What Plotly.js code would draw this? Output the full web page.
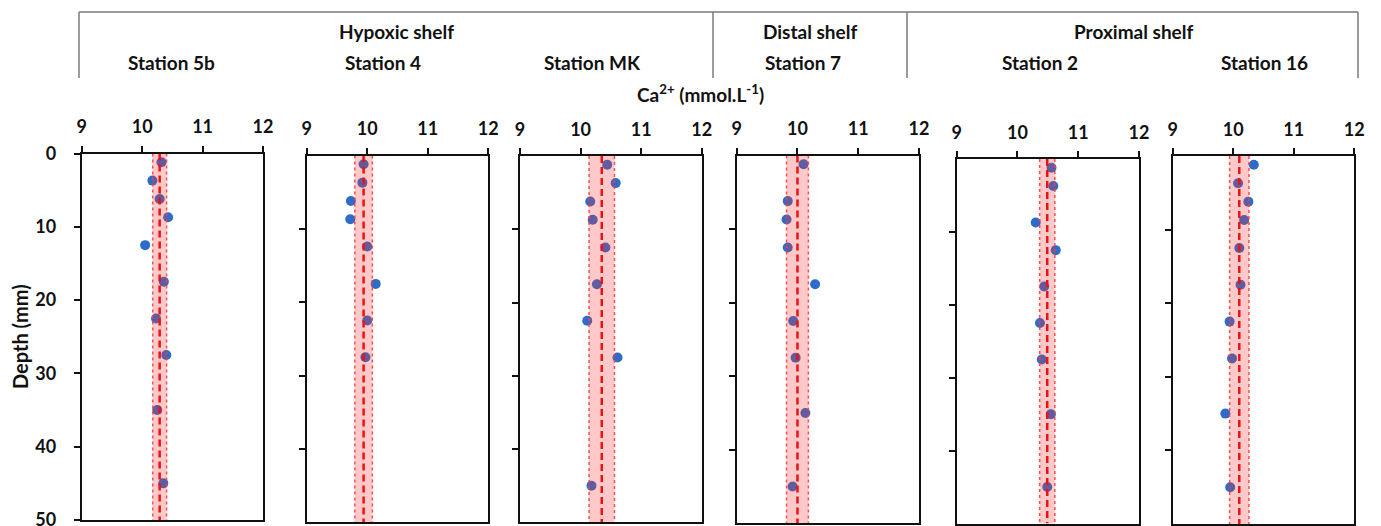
<!DOCTYPE html>
<html>
<head>
<meta charset="utf-8">
<script src="https://cdn.plot.ly/plotly-3.0.1.min.js"></script>
<style>html,body{margin:0;padding:0;background:#fff;}#chart{width:1381px;height:526px;}</style>
</head>
<body>
<div id="chart"></div>
<script>
// ---- data ----
const stations = ["Station 5b", "Station 4", "Station MK", "Station 7", "Station 2", "Station 16"];
const groups = ["Hypoxic shelf", "Distal shelf", "Proximal shelf"];
const xTicks = [9, 10, 11, 12];
const yTicks = [0, 10, 20, 30, 40, 50];

const depth5b = [1.2, 3.7, 6.2, 8.7, 12.5, 17.5, 22.5, 27.5, 35, 45];
const ca5b    = [10.32, 10.17, 10.29, 10.43, 10.05, 10.36, 10.23, 10.40, 10.25, 10.35];
const depth4  = [1.2, 3.7, 6.2, 8.7, 12.4, 17.5, 22.5, 27.5];
const ca4     = [9.94, 9.92, 9.73, 9.72, 10.00, 10.14, 10.00, 9.97];
const depthMK = [1.2, 3.7, 6.2, 8.7, 12.5, 17.5, 22.5, 27.5, 45];
const caMK    = [10.44, 10.58, 10.16, 10.20, 10.41, 10.27, 10.11, 10.61, 10.18];
const depth7  = [1.2, 6.2, 8.7, 12.5, 17.5, 22.5, 27.5, 35, 45];
const ca7     = [10.10, 9.84, 9.82, 9.84, 10.29, 9.93, 9.97, 10.13, 9.92];
const depth2  = [1.2, 3.7, 8.7, 12.5, 17.5, 22.5, 27.5, 35, 45];
const ca2     = [10.56, 10.59, 10.30, 10.63, 10.44, 10.37, 10.40, 10.55, 10.49];
const depth16 = [1.2, 3.7, 6.2, 8.7, 12.5, 17.5, 22.5, 27.5, 35, 45];
const ca16    = [10.34, 10.08, 10.25, 10.18, 10.10, 10.12, 9.94, 9.98, 9.87, 9.95];

const meanCa = [10.29, 9.94, 10.35, 10.00, 10.49, 10.10];
const sdCa   = [0.115, 0.145, 0.21, 0.18, 0.125, 0.16];

const depths = [depth5b, depth4, depthMK, depth7, depth2, depth16];
const values = [ca5b, ca4, caMK, ca7, ca2, ca16];

// ---- layout geometry (pixels) ----
const W = 1381, H = 526;
const panelX = [[81.7, 263], [306.7, 488.3], [520, 701.7], [736.7, 919], [956.7, 1139], [1172.7, 1354.3]];
const panelY = [[153.5, 520], [155.5, 522.3], [156, 522.3], [155.5, 523.3], [159, 523.5], [156, 524]];
const px = v => v / W, py = v => 1 - v / H;

const FONT = "Lato, 'Open Sans', sans-serif";
const traces = [];
const layout = {
  width: W, height: H,
  margin: {l: 0, r: 0, t: 0, b: 0},
  paper_bgcolor: "#fff", plot_bgcolor: "rgba(0,0,0,0)",
  showlegend: false,
  font: {family: FONT, color: "#111", size: 18, weight: "bold"},
  shapes: [], annotations: []
};

for (let i = 0; i < 6; i++) {
  const n = i === 0 ? "" : String(i + 1);
  const xa = "x" + n, ya = "y" + n;
  const m = meanCa[i], s = sdCa[i];
  const yr = [yTicks[yTicks.length - 1], yTicks[0]];
  traces.push({
    type: "scatter", mode: "markers", xaxis: xa, yaxis: ya,
    x: values[i], y: depths[i],
    marker: {color: "#2d6cc8", size: 10}, hoverinfo: "x+y"
  });
  traces.push({
    type: "scatter", mode: "lines", xaxis: xa, yaxis: ya,
    x: [m - s, m + s, m + s, m - s, m - s], y: [yr[1], yr[1], yr[0], yr[0], yr[1]],
    fill: "toself", fillcolor: "rgba(255,40,40,0.25)", line: {width: 0}, hoverinfo: "skip"
  });
  traces.push({
    type: "scatter", mode: "lines", xaxis: xa, yaxis: ya,
    x: [m - s, m - s, null, m + s, m + s], y: [yr[1], yr[0], null, yr[1], yr[0]],
    line: {color: "rgba(255,60,60,0.9)", width: 1.5, dash: "dot"}, hoverinfo: "skip"
  });
  traces.push({
    type: "scatter", mode: "lines", xaxis: xa, yaxis: ya,
    x: [m, m], y: [yr[1], yr[0]],
    line: {color: "#ee1111", width: 2.5, dash: "7px,4px"}, hoverinfo: "skip"
  });
  const xKey = "xaxis" + n, yKey = "yaxis" + n;
  layout[xKey] = {
    domain: [px(panelX[i][0]), px(panelX[i][1])], anchor: ya, side: "top",
    range: [xTicks[0], xTicks[xTicks.length - 1]], tickmode: "array", tickvals: xTicks,
    ticks: "outside", ticklen: 6, tickwidth: 2, tickcolor: "#111",
    showline: true, linewidth: 2, linecolor: "#111", mirror: true,
    showgrid: false, zeroline: false, fixedrange: true, ticklabeloverflow: "allow",
    tickfont: {family: FONT, size: 18, color: "#111", weight: "bold"}, ticklabelstandoff: 5
  };
  layout[yKey] = {
    domain: [py(panelY[i][1]), py(panelY[i][0])], anchor: xa,
    range: yr, tickmode: "array", tickvals: i === 0 ? yTicks : yTicks.slice(1, -1),
    ticks: "outside", ticklen: 6, tickwidth: 2, tickcolor: "#111",
    showticklabels: i === 0, ticklabeloverflow: "allow",
    showline: true, linewidth: 2, linecolor: "#111", mirror: true,
    showgrid: false, zeroline: false, fixedrange: true,
    tickfont: {family: FONT, size: 18, color: "#111", weight: "bold"}, ticklabelstandoff: 14
  };
}

// header frame
const hdrColor = "#7a7a7a";
const hdrTop = 12, hdrBottom = 78;
const hdrX = [79, 713, 907, 1358];
layout.shapes.push({type: "line", xref: "paper", yref: "paper",
  x0: px(hdrX[0]), x1: px(hdrX[3]), y0: py(hdrTop), y1: py(hdrTop), line: {color: hdrColor, width: 1.5}});
hdrX.forEach(xv => layout.shapes.push({type: "line", xref: "paper", yref: "paper",
  x0: px(xv), x1: px(xv), y0: py(hdrTop), y1: py(hdrBottom), line: {color: hdrColor, width: 1.5}}));

const groupCx = [396, 810, 1133];
const stationCx = [171, 383, 592, 803, 1040, 1264];
groups.forEach((g, k) => layout.annotations.push({xref: "paper", yref: "paper",
  x: px(groupCx[k]), y: py(32), text: "<b>" + g + "</b>", showarrow: false,
  xanchor: "center", yanchor: "middle", font: {family: FONT, size: 19, color: "#111"}}));
stations.forEach((s, k) => layout.annotations.push({xref: "paper", yref: "paper",
  x: px(stationCx[k]), y: py(62), text: "<b>" + s + "</b>", showarrow: false,
  xanchor: "center", yanchor: "middle", font: {family: FONT, size: 19, color: "#111"}}));

layout.annotations.push({xref: "paper", yref: "paper", x: px(700), y: py(93),
  text: "<b>Ca<sup>2+</sup> (mmol.L<sup>-1</sup>)</b>", showarrow: false,
  xanchor: "center", yanchor: "middle", font: {family: FONT, size: 19, color: "#111"}});
layout.annotations.push({xref: "paper", yref: "paper", x: px(20), y: py(337),
  text: "<b>Depth (mm)</b>", showarrow: false, textangle: -90,
  xanchor: "center", yanchor: "middle", font: {family: FONT, size: 20, color: "#111"}});

Plotly.newPlot("chart", traces, layout, {displayModeBar: false, staticPlot: true});
</script>
</body>
</html>
